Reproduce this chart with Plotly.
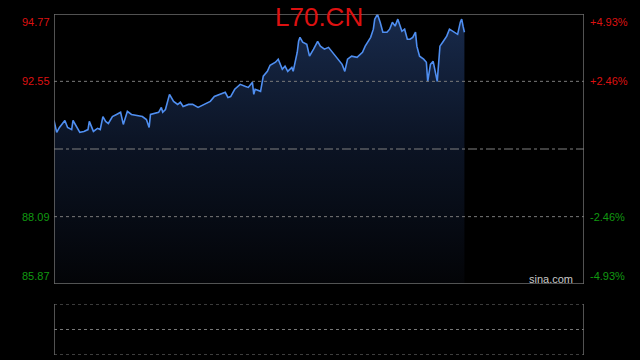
import plotly.graph_objects as go

# ---- data (minutes since open, price) ----
minutes = [0, 2, 4, 7, 8, 10, 13, 14, 16, 19, 22, 25, 26, 29, 32, 34, 36, 38, 40, 43,
           46, 49, 51, 54, 57, 60, 63, 65, 68, 70, 71, 74, 77, 79, 80, 82, 84, 85, 88, 91,
           93, 95, 99, 102, 106, 110, 115, 118, 122, 126, 128, 130, 133, 137, 141, 143, 146, 147, 148, 152,
           154, 157, 159, 163, 165, 168, 170, 172, 175, 176, 179, 180, 181, 183, 186, 188, 191, 194, 196, 199,
           202, 205, 208, 212, 214, 216, 219, 223, 227, 229, 233, 235, 236, 238, 240, 242, 245, 247, 249, 251,
           253, 256, 258, 260, 262, 264, 266, 267, 269, 272, 274, 275, 277, 279, 282, 283, 284, 286, 289, 291,
           294, 297, 299, 300, 301, 302]
prices = [91.26, 90.87, 91.03, 91.23, 91.26, 91.03, 90.96, 91.26, 91.10, 90.87, 90.90, 90.96, 91.23, 90.90, 91.00, 90.96, 91.39, 91.23, 91.16, 91.39,
          91.46, 91.53, 91.13, 91.56, 91.46, 91.43, 91.39, 91.39, 91.29, 91.03, 91.46, 91.49, 91.53, 91.69, 91.53, 91.62, 91.96, 92.12, 91.89, 91.79,
          91.86, 91.72, 91.79, 91.79, 91.69, 91.79, 91.89, 92.05, 92.12, 92.19, 92.02, 92.05, 92.29, 92.45, 92.38, 92.35, 92.52, 92.12, 92.29, 92.22,
          92.72, 92.88, 93.08, 93.18, 93.28, 92.95, 93.05, 92.88, 93.01, 92.88, 93.51, 93.87, 94.00, 93.84, 93.77, 93.38, 93.61, 93.87, 93.71, 93.61,
          93.67, 93.51, 93.34, 93.11, 92.88, 93.28, 93.38, 93.34, 93.51, 93.71, 94.00, 94.27, 94.60, 94.76, 94.50, 94.17, 94.17, 94.27, 94.50, 94.37,
          94.60, 94.20, 94.27, 93.94, 93.94, 94.00, 94.17, 93.71, 93.38, 93.28, 93.18, 92.55, 93.11, 93.21, 92.55, 93.18, 93.71, 93.84, 94.04, 94.27,
          94.17, 94.10, 94.50, 94.60, 94.37, 94.17]

title_text = "L70.CN"
prev_close = 90.32
y_min, y_max = 85.87, 94.77
left_ticks = [94.77, 92.55, 88.09, 85.87]
right_ticks = ["+4.93%", "+2.46%", "-2.46%", "-4.93%"]
tick_colors = ["#dd1111", "#dd1111", "#119911", "#119911"]
grid_levels = [92.55, 88.09]
session_minutes = 390

RED = "#dd1111"
FRAME = "#6e6e6e"
GRID = "#7a7a7a"

fig = go.Figure()

# baseline for the gradient fill
fig.add_trace(go.Scatter(x=[minutes[0], minutes[-1]], y=[y_min, y_min], mode="lines",
                         line=dict(width=0, color="rgba(0,0,0,0)"), hoverinfo="skip",
                         showlegend=False, xaxis="x", yaxis="y"))
fig.add_trace(go.Scatter(x=minutes, y=prices, mode="lines",
                         line=dict(color="#4f8ef0", width=1.6),
                         fill="tonexty",
                         fillgradient=dict(type="vertical", start=y_min, stop=y_max,
                                           colorscale=[[0, "#030407"], [0.5, "#0b1323"], [1, "#182a4b"]]),
                         showlegend=False, xaxis="x", yaxis="y"))

# dummy trace for lower panel
fig.add_trace(go.Scatter(x=[0], y=[0], mode="markers", marker=dict(opacity=0),
                         showlegend=False, hoverinfo="skip", xaxis="x2", yaxis="y2"))

shapes = []
# main frame
shapes.append(dict(type="rect", xref="x", yref="y", x0=0, x1=session_minutes, y0=y_min, y1=y_max,
                   line=dict(color=FRAME, width=1.5), layer="above"))
for g in grid_levels:
    shapes.append(dict(type="line", xref="x", yref="y", x0=0, x1=session_minutes, y0=g, y1=g,
                       line=dict(color=GRID, width=1, dash="dot"), layer="above"))
shapes.append(dict(type="line", xref="x", yref="y", x0=0, x1=session_minutes, y0=prev_close, y1=prev_close,
                   line=dict(color="#808080", width=1, dash="dashdot"), layer="above"))
# lower panel
for yy in [0, 1, 2]:
    shapes.append(dict(type="line", xref="x2", yref="y2", x0=0, x1=session_minutes, y0=yy, y1=yy,
                       line=dict(color=GRID, width=1, dash="dot")))
for xx in [0, session_minutes]:
    shapes.append(dict(type="line", xref="x2", yref="y2", x0=xx, x1=xx, y0=0, y1=2,
                       line=dict(color=FRAME, width=1.5)))

annotations = []
anchors = ["top", "middle", "middle", "bottom"]
for v, rt, c, a in zip(left_ticks, right_ticks, tick_colors, anchors):
    annotations.append(dict(x=0, xref="paper", y=v, yref="y", text=f"{v:.2f}", showarrow=False,
                            xanchor="right", yanchor=a, xshift=-2,
                            font=dict(family="Liberation Sans, Arial", size=11, color=c)))
    annotations.append(dict(x=1, xref="paper", y=v, yref="y", text=rt, showarrow=False,
                            xanchor="left", yanchor=a, xshift=4,
                            font=dict(family="Liberation Sans, Arial", size=11, color=c)))
annotations.append(dict(x=0.5, xref="paper", y=1, yref="paper", text=title_text, showarrow=False,
                        xanchor="center", yanchor="middle", yshift=-3,
                        font=dict(family="Liberation Sans, Arial", size=26, color=RED)))
annotations.append(dict(x=0.983, xref="paper", y=y_min, yref="y", text="sina.com", showarrow=False,
                        xanchor="right", yanchor="bottom", yshift=-3,
                        font=dict(family="Liberation Sans, Arial", size=11, color="#c8c8c8")))

fig.update_layout(
    width=640, height=360,
    margin=dict(l=54, r=56, t=14, b=5),
    paper_bgcolor="#000000", plot_bgcolor="#000000",
    xaxis=dict(range=[0, session_minutes], domain=[0, 1], visible=False, fixedrange=True),
    yaxis=dict(range=[y_min, y_max], domain=[0.2082, 1.0], visible=False),
    xaxis2=dict(range=[0, session_minutes], domain=[0, 1], visible=False, anchor="y2"),
    yaxis2=dict(range=[0, 2], domain=[0.0, 0.1496], visible=False, anchor="x2"),
    shapes=shapes, annotations=annotations,
)

fig.write_html("out.html")
